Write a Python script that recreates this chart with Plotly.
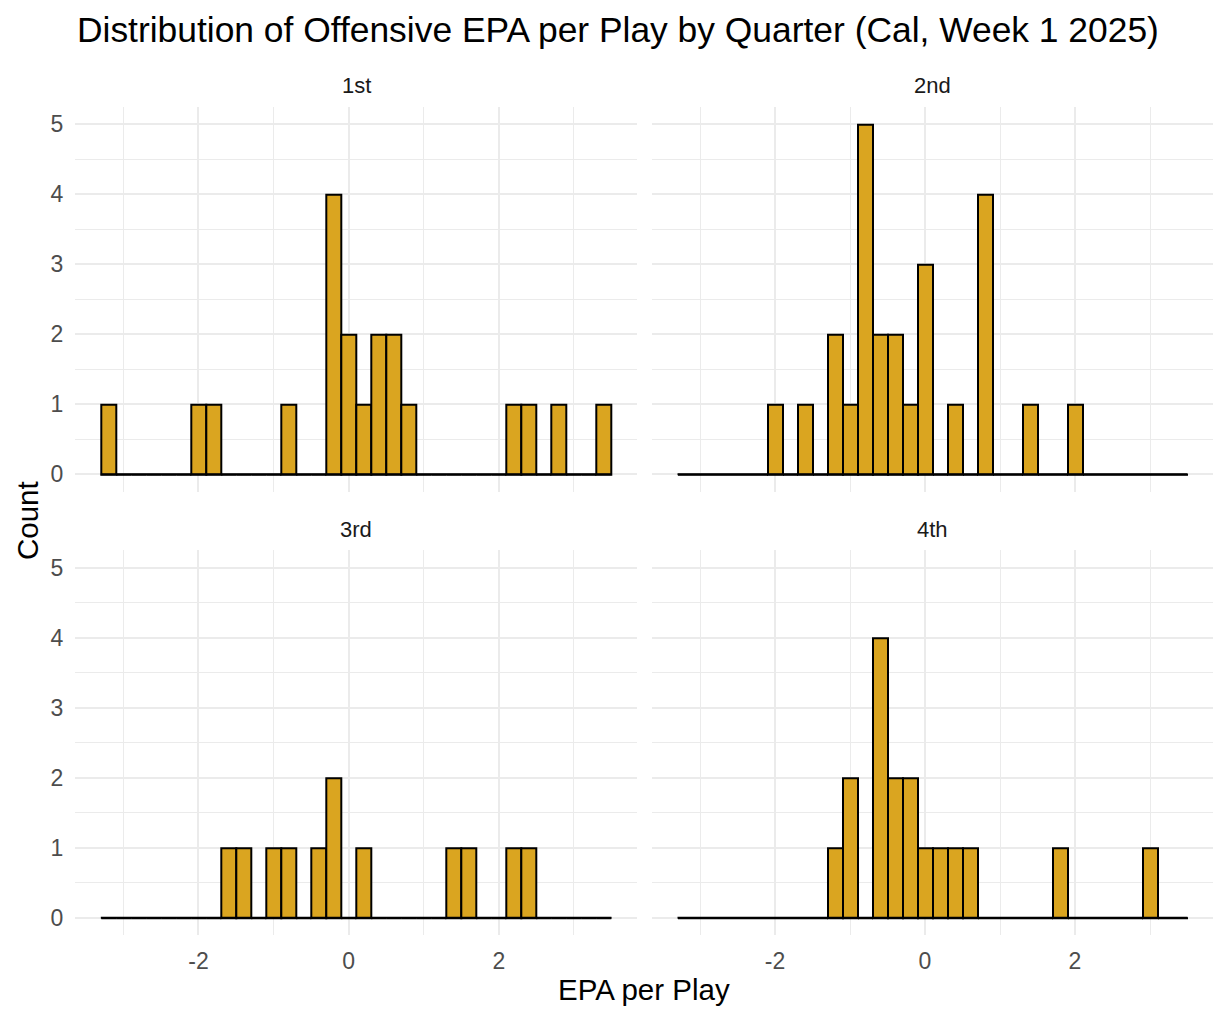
import plotly.graph_objects as go

# ---- data ----
bin_centers = [-3.2, -3.0, -2.8, -2.6, -2.4, -2.2, -2.0, -1.8, -1.6, -1.4, -1.2, -1.0,
               -0.8, -0.6, -0.4, -0.2, 0.0, 0.2, 0.4, 0.6, 0.8, 1.0, 1.2, 1.4,
               1.6, 1.8, 2.0, 2.2, 2.4, 2.6, 2.8, 3.0, 3.2, 3.4]
q1_counts = [1, 0, 0, 0, 0, 0, 1, 1, 0, 0, 0, 0, 1, 0, 0, 4, 2, 1, 2, 2, 1, 0, 0, 0, 0, 0, 0, 1, 1, 0, 1, 0, 0, 1]
q2_counts = [0, 0, 0, 0, 0, 0, 1, 0, 1, 0, 2, 1, 5, 2, 2, 1, 3, 0, 1, 0, 4, 0, 0, 1, 0, 0, 1, 0, 0, 0, 0, 0, 0, 0]
q3_counts = [0, 0, 0, 0, 0, 0, 0, 0, 1, 1, 0, 1, 1, 0, 1, 2, 0, 1, 0, 0, 0, 0, 0, 1, 1, 0, 0, 1, 1, 0, 0, 0, 0, 0]
q4_counts = [0, 0, 0, 0, 0, 0, 0, 0, 0, 0, 1, 2, 0, 4, 2, 2, 1, 1, 1, 1, 0, 0, 0, 0, 0, 1, 0, 0, 0, 0, 0, 1, 0, 0]
quarters = ["1st", "2nd", "3rd", "4th"]
x_ticks = [-2, 0, 2]
x_tick_labels = ["-2", "0", "2"]
y_ticks = [0, 1, 2, 3, 4, 5]

counts = [q1_counts, q2_counts, q3_counts, q4_counts]

# the page body has an 8px margin; work in window pixel coords and convert
OFF = 8
FW, FH = 1212, 1002
FILL = "#DAA520"
GRID = "#EBEBEB"
FONT = "Liberation Sans, Arial, sans-serif"


def px(x):
    return (x - OFF) / FW


def py(y):
    return 1 - (y - OFF) / FH


bw = bin_centers[1] - bin_centers[0]
lo = bin_centers[0] - bw / 2
hi = bin_centers[-1] + bw / 2
pad = (hi - lo) * 0.05
xr = [lo - pad, hi + pad]
ymax = max(max(c) for c in counts)
yr = [-0.05 * ymax, ymax * 1.05]

# panel boxes in window pixels
xdoms = [[px(75.3), px(637)], [px(652), px(1213)]]
ydoms = [[py(491.8), py(106.7)], [py(935.2), py(550.2)]]

fig = go.Figure()
for i, (q, c) in enumerate(zip(quarters, counts)):
    n = i + 1
    xa = "x" if n == 1 else f"x{n}"
    ya = "y" if n == 1 else f"y{n}"
    fig.add_trace(go.Scatter(x=[lo, hi], y=[0, 0], mode="lines",
                             line=dict(color="black", width=2),
                             xaxis=xa, yaxis=ya, showlegend=False, hoverinfo="skip"))
    fig.add_trace(go.Bar(x=bin_centers, y=c, width=[bw] * len(bin_centers),
                         marker=dict(color=FILL, line=dict(color="black", width=2)),
                         xaxis=xa, yaxis=ya, showlegend=False, name=q))

layout = dict(
    width=FW, height=FH,
    margin=dict(l=0, r=0, t=0, b=0),
    paper_bgcolor="white", plot_bgcolor="white",
    bargap=0,
    font=dict(family=FONT, color="#4D4D4D"),
    title=dict(text="Distribution of Offensive EPA per Play by Quarter (Cal, Week 1 2025)",
               x=px(77), xanchor="left", y=py(30), yanchor="middle",
               font=dict(size=35.4, color="black", family=FONT)),
)

for i in range(4):
    n = i + 1
    row, col = divmod(i, 2)
    xk = "xaxis" if n == 1 else f"xaxis{n}"
    yk = "yaxis" if n == 1 else f"yaxis{n}"
    ya = "y" if n == 1 else f"y{n}"
    xa = "x" if n == 1 else f"x{n}"
    layout[xk] = dict(domain=xdoms[col], anchor=ya, range=xr, tickvals=x_ticks,
                      ticktext=x_tick_labels,
                      showticklabels=(row == 1), showgrid=True, gridcolor=GRID, gridwidth=2,
                      minor=dict(dtick=1, tick0=1, showgrid=True, gridcolor=GRID, gridwidth=1),
                      zeroline=False, showline=False, ticks="",
                      tickfont=dict(size=23, color="#4D4D4D"), ticklabelstandoff=10)
    layout[yk] = dict(domain=ydoms[row], anchor=xa, range=yr, tickvals=y_ticks,
                      showticklabels=(col == 0), showgrid=True, gridcolor=GRID, gridwidth=2,
                      minor=dict(dtick=0.5, tick0=0.5, showgrid=True, gridcolor=GRID, gridwidth=1),
                      zeroline=False, showline=False, ticks="",
                      tickfont=dict(size=23, color="#4D4D4D"), ticklabelstandoff=11)

fig.update_layout(**layout)

# facet strip labels
strip_y = [85, 529]
for i, q in enumerate(quarters):
    row, col = divmod(i, 2)
    cx = (xdoms[col][0] + xdoms[col][1]) / 2
    fig.add_annotation(text=q, x=cx, y=py(strip_y[row]), xref="paper", yref="paper",
                       xanchor="center", yanchor="middle", showarrow=False,
                       font=dict(size=22, color="#1A1A1A", family=FONT))

# axis titles
fig.add_annotation(text="EPA per Play", x=px((75.3 + 1213) / 2), y=py(989),
                   xref="paper", yref="paper", xanchor="center", yanchor="middle",
                   showarrow=False, font=dict(size=29.5, color="black", family=FONT))
fig.add_annotation(text="Count", x=px(27), y=py(521), textangle=-90,
                   xref="paper", yref="paper", xanchor="center", yanchor="middle",
                   showarrow=False, font=dict(size=29.5, color="black", family=FONT))

fig.write_html("out.html")
